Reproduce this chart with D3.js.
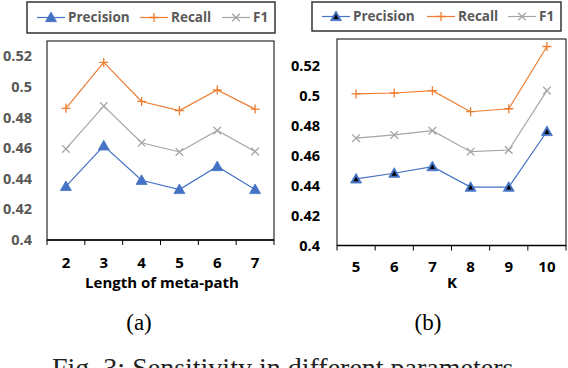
<!DOCTYPE html>
<html>
<head>
<meta charset="utf-8">
<script src="https://cdn.jsdelivr.net/npm/d3@7"></script>
<style>
  body { margin: 0; background: #fff; }
  svg { display: block; }
</style>
</head>
<body>
<div id="chart"></div>
<script>
// Datos del panel (a): longitud del meta-path
const pathLengths = ["2", "3", "4", "5", "6", "7"];
const precisionA = [0.435, 0.4615, 0.439, 0.433, 0.448, 0.433];
const recallA = [0.486, 0.516, 0.4905, 0.4845, 0.498, 0.4855];
const f1A = [0.4595, 0.4875, 0.4635, 0.4575, 0.4715, 0.4578];

// Datos del panel (b): K
const kValues = ["5", "6", "7", "8", "9", "10"];
const precisionB = [0.4445, 0.4483, 0.4527, 0.439, 0.439, 0.4762];
const recallB = [0.5013, 0.5019, 0.5035, 0.4894, 0.4914, 0.533];
const f1B = [0.4717, 0.4739, 0.4767, 0.4627, 0.4638, 0.5035];

const yTicks = [0.4, 0.42, 0.44, 0.46, 0.48, 0.5, 0.52];
const seriesNames = ["Precision", "Recall", "F1"];

const width = 568;
const height = 368;
const font = "'Open Sans', sans-serif";
const serif = "'Liberation Serif', 'Times New Roman', serif";

const svg = d3.select("#chart").append("svg")
  .attr("width", width)
  .attr("height", height);

// Símbolos de los marcadores
function drawMarker(g, name, x, y, filledDark) {
  if (name === "Precision") {
    const s = 5.5;
    g.append("path")
      .attr("d", `M${x},${y - s}L${x + s},${y + s * 0.75}L${x - s},${y + s * 0.75}Z`)
      .attr("fill", "#4472c4")
      .attr("stroke", "#4472c4")
      .attr("stroke-width", 0.8);
    if (filledDark) {
      const t = 3;
      g.append("path")
        .attr("d", `M${x},${y - t + 0.5}L${x + t * 0.85},${y + t * 0.8}L${x - t * 0.85},${y + t * 0.8}Z`)
        .attr("fill", "#000");
    }
  } else if (name === "Recall") {
    const s = 4.5;
    g.append("path")
      .attr("d", `M${x - s},${y}H${x + s}M${x},${y - s}V${y + s}`)
      .attr("stroke", "#ed7d31")
      .attr("stroke-width", 1.3);
  } else {
    const s = 3.8;
    g.append("path")
      .attr("d", `M${x - s},${y - s}L${x + s},${y + s}M${x - s},${y + s}L${x + s},${y - s}`)
      .attr("stroke", "#a5a5a5")
      .attr("stroke-width", 1.3);
  }
}

const colors = { Precision: "#4472c4", Recall: "#ed7d31", F1: "#a5a5a5" };

function drawPanel(opt) {
  const g = svg.append("g");

  const x = d3.scaleBand()
    .domain(opt.categories)
    .range([opt.left, opt.right]);

  const y = d3.scaleLinear()
    .domain([0.4, opt.yMax])
    .range([opt.bottom, opt.top]);

  // Leyenda
  const leg = g.append("g");
  leg.append("rect")
    .attr("x", opt.legend.x).attr("y", opt.legend.y)
    .attr("width", opt.legend.w).attr("height", opt.legend.h)
    .attr("fill", "#fff")
    .attr("stroke", "#262626")
    .attr("stroke-width", 1.4);
  seriesNames.forEach((name, i) => {
    const lx = opt.legend.items[i];
    const ly = opt.legend.y + opt.legend.h / 2;
    leg.append("line")
      .attr("x1", lx).attr("x2", lx + 28)
      .attr("y1", ly).attr("y2", ly)
      .attr("stroke", colors[name])
      .attr("stroke-width", 1.2);
    drawMarker(leg, name, lx + 14, ly, opt.darkTriangle);
    leg.append("text")
      .attr("x", lx + 31).attr("y", ly)
      .attr("dy", "0.35em")
      .attr("font-family", font)
      .attr("font-weight", "bold")
      .attr("font-size", 13.5)
      .attr("fill", "#595959")
      .text(name);
  });

  // Marco del gráfico
  g.append("rect")
    .attr("x", opt.left).attr("y", opt.top)
    .attr("width", opt.right - opt.left)
    .attr("height", opt.bottom - opt.top)
    .attr("fill", "none")
    .attr("stroke", "#000")
    .attr("stroke-width", 1);

  // Eje X
  const xAxis = g.append("g")
    .attr("transform", `translate(0,${opt.bottom})`);
  xAxis.append("line")
    .attr("x1", opt.left).attr("x2", opt.right)
    .attr("stroke", "#000").attr("stroke-width", 1.3);
  const bounds = opt.categories.map(c => x(c)).concat([opt.right]);
  xAxis.selectAll("line.tick")
    .data(bounds)
    .enter().append("line")
    .attr("class", "tick")
    .attr("x1", d => d).attr("x2", d => d)
    .attr("y1", 0).attr("y2", 5)
    .attr("stroke", "#000").attr("stroke-width", 1);
  xAxis.selectAll("text")
    .data(opt.categories)
    .enter().append("text")
    .attr("x", d => x(d) + x.bandwidth() / 2)
    .attr("y", opt.xLabelY - opt.bottom)
    .attr("text-anchor", "middle")
    .attr("font-family", font)
    .attr("font-weight", "bold")
    .attr("font-size", 15)
    .attr("fill", "#000")
    .text(d => d);

  g.append("text")
    .attr("x", opt.titleX)
    .attr("y", opt.titleY)
    .attr("text-anchor", "middle")
    .attr("font-family", font)
    .attr("font-weight", "bold")
    .attr("font-size", 15)
    .attr("fill", "#000")
    .text(opt.xTitle);

  // Eje Y (solo etiquetas)
  g.selectAll("text.ytick")
    .data(yTicks)
    .enter().append("text")
    .attr("class", "ytick")
    .attr("x", opt.yLabelX)
    .attr("y", d => y(d))
    .attr("dy", "0.35em")
    .attr("text-anchor", "end")
    .attr("font-family", font)
    .attr("font-weight", "bold")
    .attr("font-size", 14.5)
    .attr("fill", opt.yLabelColor)
    .text(d => d3.format("~g")(d));

  // Series
  const line = d3.line()
    .x((d, i) => x(opt.categories[i]) + x.bandwidth() / 2)
    .y(d => y(d));

  opt.series.forEach((vals, si) => {
    const name = seriesNames[si];
    g.append("path")
      .datum(vals)
      .attr("fill", "none")
      .attr("stroke", colors[name])
      .attr("stroke-width", 1.2)
      .attr("d", line);
  });
  opt.series.forEach((vals, si) => {
    const name = seriesNames[si];
    vals.forEach((v, i) => {
      drawMarker(g, name, x(opt.categories[i]) + x.bandwidth() / 2, y(v), opt.darkTriangle);
    });
  });

  // Subtítulo
  g.append("text")
    .attr("x", opt.captionX)
    .attr("y", 330)
    .attr("text-anchor", "middle")
    .attr("font-family", serif)
    .attr("font-size", 23)
    .attr("fill", "#000")
    .text(opt.caption);
}

drawPanel({
  categories: pathLengths,
  series: [precisionA, recallA, f1A],
  left: 47, right: 274, top: 41, bottom: 240,
  yMax: 0.53,
  yLabelX: 32,
  yLabelColor: "#595959",
  xLabelY: 268,
  xTitle: "Length of meta-path",
  titleX: 162, titleY: 288,
  darkTriangle: false,
  legend: { x: 27, y: 2, w: 248, h: 31, items: [37, 140, 222] },
  caption: "(a)", captionX: 139
});

drawPanel({
  categories: kValues,
  series: [precisionB, recallB, f1B],
  left: 337, right: 566, top: 39, bottom: 245.5,
  yMax: 0.538,
  yLabelX: 320,
  yLabelColor: "#000",
  xLabelY: 272,
  xTitle: "K",
  titleX: 452, titleY: 288,
  darkTriangle: true,
  legend: { x: 312, y: 2, w: 249, h: 29, items: [322, 427, 508] },
  caption: "(b)", captionX: 428
});

// Título de la figura (cortado en la parte inferior, como en el original)
svg.append("text")
  .attr("x", 52)
  .attr("y", 377)
  .attr("font-family", serif)
  .attr("font-size", 28)
  .attr("fill", "#222")
  .text("Fig. 3: Sensitivity in different parameters.");
</script>
</body>
</html>
